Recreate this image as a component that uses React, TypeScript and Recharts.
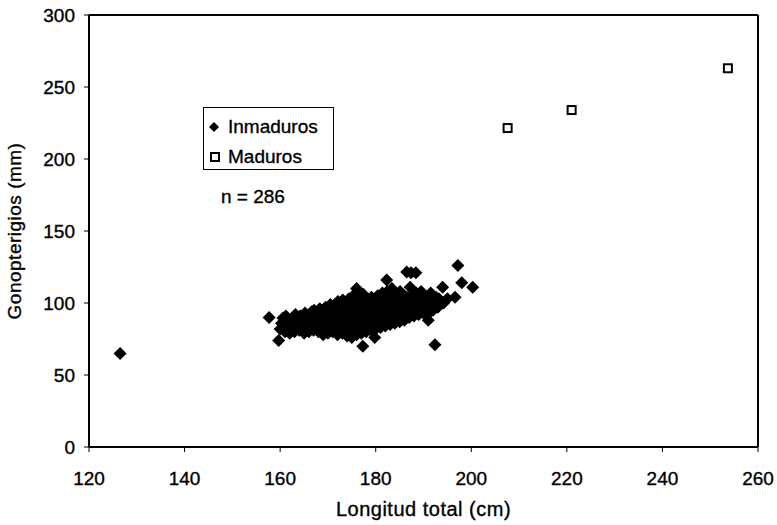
import { ScatterChart, Scatter, XAxis, YAxis, ReferenceLine, Label } from 'recharts';

const xTicks = [120, 140, 160, 180, 200, 220, 240, 260];
const yTicks = [0, 50, 100, 150, 200, 250, 300];

// [longitud total (cm), gonopterigios (mm)]
const maduros: [number, number][] = [
  [207.6, 221.5],
  [221, 234],
  [253.7, 263],
];

const inmaduros: [number, number][] = [
  [126.5, 65],
  [157.7, 90],
  [159.7, 74],
  [160.6, 89.6], [160, 82], [160.3, 86],
  [161, 80], [161, 84], [161.4, 88], [161.2, 91],
  [162, 79], [162, 83], [162.3, 86], [162.5, 89],
  [163, 80], [163, 84], [163.4, 88], [163.2, 92],
  [164, 81], [164, 85], [164.5, 88], [164.2, 91],
  [165, 79], [165, 83], [165.3, 87], [165.5, 90], [165.2, 93],
  [166, 80], [166, 84], [166.4, 87], [166.2, 91], [166.6, 94],
  [167, 81], [167, 85], [167.5, 88], [167.3, 92], [167.1, 95],
  [168, 80], [168, 83], [168.4, 86], [168.2, 89], [168.6, 92], [168.3, 96],
  [169, 78], [169, 82], [169.4, 85], [169.2, 88], [169.6, 91], [169.3, 94], [169.5, 97],
  [170, 79], [170, 83], [170.4, 86], [170.2, 89], [170.6, 92], [170.3, 95], [170.5, 99],
  [171, 80], [171, 84], [171.4, 87], [171.2, 90], [171.6, 93], [171.3, 96], [171.5, 99],
  [172, 78], [172, 82], [172.4, 85], [172.2, 88], [172.6, 91], [172.3, 94], [172.5, 97], [172.1, 101],
  [173, 79], [173, 83], [173.4, 86], [173.2, 89], [173.6, 92], [173.3, 95], [173.5, 98], [173.1, 102],
  [174, 77], [174, 81], [174.4, 84], [174.2, 87], [174.6, 90], [174.3, 93], [174.5, 96], [174.1, 99], [174.4, 103],
  [175, 76], [175, 80], [175.4, 83], [175.2, 86], [175.6, 89], [175.3, 92], [175.5, 95], [175.1, 98], [175.4, 101], [175.6, 106],
  [176, 78], [176, 82], [176.4, 85], [176.2, 88], [176.6, 91], [176.3, 94], [176.5, 97], [176.1, 100], [176.4, 104], [176, 110],
  [177.3, 70], [177, 79], [177, 83], [177.4, 86], [177.2, 89], [177.6, 92], [177.3, 95], [177.5, 98], [177.1, 101], [177.4, 106],
  [178, 80], [178, 84], [178.4, 87], [178.2, 90], [178.6, 93], [178.3, 96], [178.5, 99], [178.1, 102],
  [179, 81], [179, 85], [179.4, 88], [179.2, 91], [179.6, 94], [179.3, 97], [179.5, 100], [179.1, 104],
  [179.8, 76], [180, 82], [180.4, 86], [180.2, 89], [180.6, 92], [180.3, 95], [180.5, 98], [180.1, 101], [180.4, 105],
  [181, 83], [181.4, 87], [181.2, 90], [181.6, 93], [181.3, 96], [181.5, 99], [181.1, 102], [181.4, 107],
  [182, 84], [182.4, 88], [182.2, 91], [182.6, 94], [182.3, 97], [182.5, 100], [182.1, 103], [182.4, 108], [182.3, 116],
  [183, 85], [183.4, 89], [183.2, 92], [183.6, 95], [183.3, 98], [183.5, 101], [183.1, 105], [183.4, 110],
  [184, 86], [184.4, 90], [184.2, 93], [184.6, 96], [184.3, 99], [184.5, 102], [184.1, 106],
  [185, 87], [185.4, 91], [185.2, 94], [185.6, 97], [185.3, 100], [185.5, 103], [185.1, 108],
  [186, 88], [186.4, 92], [186.2, 95], [186.6, 98], [186.3, 101], [186.5, 104], [186.5, 121.5],
  [187, 90], [187.4, 93], [187.2, 96], [187.6, 99], [187.3, 102], [187.5, 105], [187.2, 111], [187.4, 121],
  [188, 91], [188.4, 94], [188.2, 97], [188.6, 100], [188.3, 103], [188.5, 107], [188.4, 121],
  [189, 92], [189.4, 95], [189.2, 98], [189.6, 101], [189.3, 104], [189.5, 108],
  [190, 93], [190.4, 96], [190.2, 99], [190.6, 102], [190.3, 105],
  [191, 88], [191.4, 94], [191.2, 97], [191.6, 100], [191.3, 103], [191.5, 107],
  [192.4, 71], [192, 95], [192.4, 98], [192.2, 101], [192.6, 104],
  [193, 97], [193.4, 100], [193.2, 103],
  [194, 111], [194.2, 100],
  [195, 103],
  [196.6, 104],
  [197.2, 126],
  [198, 114],
  [200.3, 111],
];

const inmadurosData = inmaduros.map(([x, y]) => ({ x, y }));
const madurosData = maduros.map(([x, y]) => ({ x, y }));

const FONT = '"Liberation Sans", Arial, Helvetica, sans-serif';

const Diamond = (props: any) => {
  const { cx, cy } = props;
  const r = 6.5;
  return <path d={`M${cx},${cy - r}L${cx + r},${cy}L${cx},${cy + r}L${cx - r},${cy}Z`} fill="#000" />;
};

const OpenSquare = (props: any) => {
  const { cx, cy } = props;
  return <rect x={cx - 4} y={cy - 4} width={8} height={8} fill="#fff" stroke="#000" strokeWidth={2} />;
};

// slightly heavier glyphs, like a photocopied figure
const textStyle = { fill: '#000', stroke: '#000', strokeWidth: 0.35, fontFamily: FONT };
const tickStyle = { ...textStyle, fontSize: 19 };

export default function App() {
  return (
    <div style={{ position: 'absolute', left: 0, top: 0, width: 777, height: 525, background: '#fff' }}>
      <ScatterChart width={777} height={525} margin={{ top: 15, right: 19, bottom: 0, left: 0 }}>
        <XAxis
          type="number"
          dataKey="x"
          domain={[120, 260]}
          ticks={xTicks}
          height={78}
          tickSize={5}
          tickMargin={20}
          tick={tickStyle}
          stroke="#000"
          strokeWidth={2}
          tickLine={{ stroke: '#000', strokeWidth: 1 }}
        >
          <Label
            value="Longitud total (cm)"
            position="insideBottom"
            offset={9}
            style={{ ...textStyle, fontSize: 20, letterSpacing: 0.5 }}
          />
        </XAxis>
        <YAxis
          type="number"
          dataKey="y"
          domain={[0, 300]}
          ticks={yTicks}
          width={89}
          tickSize={5}
          tickMargin={9}
          tick={tickStyle}
          stroke="#000"
          strokeWidth={2}
          tickLine={{ stroke: '#000', strokeWidth: 1 }}
        >
          <Label
            content={(p: any) => {
              const vb = p.viewBox || { x: 0, y: 15, height: 432 };
              const x = vb.x + 21;
              const y = vb.y + vb.height / 2;
              return (
                <text
                  x={x}
                  y={y}
                  transform={`rotate(-90 ${x} ${y})`}
                  textAnchor="middle"
                  fontSize={19}
                  letterSpacing={0.5}
                  style={textStyle}
                >
                  Gonopterigios (mm)
                </text>
              );
            }}
          />
        </YAxis>
        <ReferenceLine y={300} stroke="#000" strokeWidth={2} />
        <ReferenceLine x={260} stroke="#000" strokeWidth={2} />
        <Scatter data={inmadurosData} shape={Diamond} isAnimationActive={false} />
        <Scatter data={madurosData} shape={OpenSquare} isAnimationActive={false} />
      </ScatterChart>

      {/* legend box and sample size note */}
      <svg
        width={777}
        height={525}
        style={{ position: 'absolute', left: 0, top: 0, pointerEvents: 'none' }}
      >
        <rect x={203.5} y={107.5} width={130} height={62} fill="#fff" stroke="#000" strokeWidth={1} />
        <path d="M214,122L219,127L214,132L209,127Z" fill="#000" />
        <text x={228} y={133} fontSize={19} style={textStyle}>Inmaduros</text>
        <rect x={211} y={153} width={8} height={8} fill="#fff" stroke="#000" strokeWidth={2} />
        <text x={228} y={163} fontSize={19} style={textStyle}>Maduros</text>
        <text x={221} y={203} fontSize={19} style={textStyle}>n = 286</text>
      </svg>
    </div>
  );
}
